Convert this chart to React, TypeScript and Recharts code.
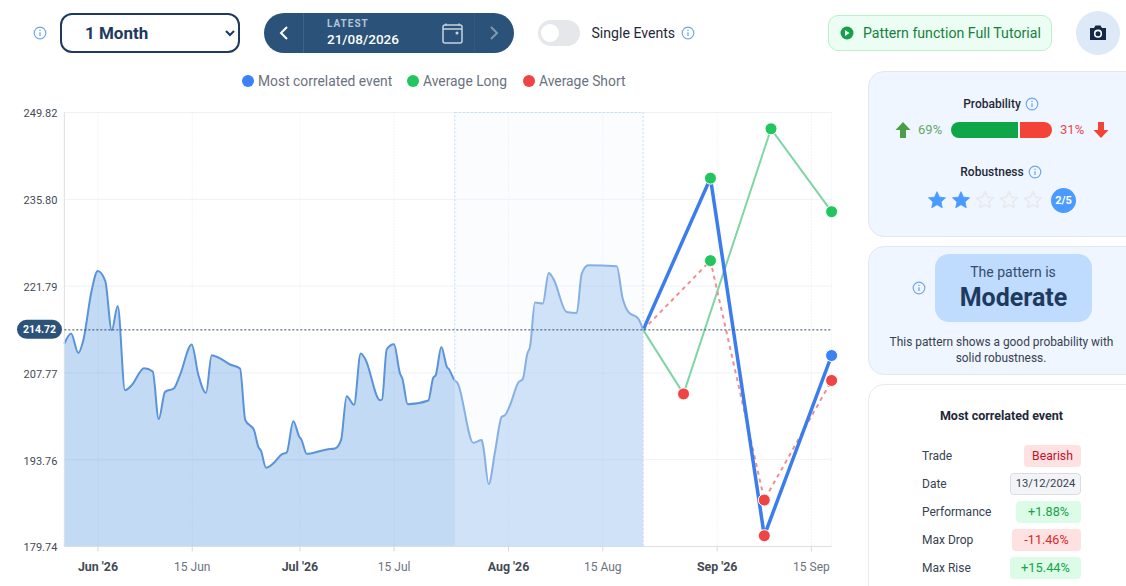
import {
  ComposedChart,
  Area,
  Line,
  XAxis,
  YAxis,
  CartesianGrid,
  ReferenceArea,
  ReferenceLine,
} from "recharts";

// days counted from 1 Jun 2026
const historyDays = [
  -5, -4, -2.93, -2.18, -0.94, -0.04, 1.08, 2.04, 2.93, 4.01, 5.01, 6.84, 8.13, 9.02, 9.96, 11.29, 12.18, 13.92, 14.9,
  16.05, 16.89, 17.88, 19.61, 21.1, 21.89, 23.18, 23.82, 24.22, 24.96, 26.05, 27.3, 28.04, 29.02, 29.91, 30.21, 31.01,
  33.98, 35.22, 36.11, 36.95, 38.04, 39.03, 39.67, 41.9, 42.2, 42.9, 43.98, 44.87, 45.22, 46.02, 49.08, 49.82, 50.18,
  51.01, 51.84, 52.2, 52.9, 53.42, 55.77, 57.01, 57.25, 58.05, 58.99, 59.99, 60.48, 61.22, 62.45, 63.11, 63.79, 64.19,
  64.93, 66.08, 66.97, 67.65, 69.64, 71.13, 71.87, 72.85, 77.07, 77.96, 78.8, 80.28, 81,
];
const historyPrices = [
  212.51, 214.13, 211.0, 213.05, 221.11, 224.22, 222.61, 214.66, 218.58, 204.98, 205.79, 208.53, 208.0, 200.3, 204.71,
  205.3, 207.4, 212.35, 207.51, 204.55, 210.63, 210.26, 209.13, 208.48, 200.14, 198.53, 195.84, 195.19, 192.45, 193.16,
  194.61, 194.93, 199.98, 197.45, 197.03, 194.71, 195.42, 195.58, 196.92, 204.01, 202.61, 210.9, 210.09, 203.37, 203.48,
  211.59, 212.4, 207.68, 206.87, 202.72, 203.32, 207.03, 207.4, 211.97, 208.74, 208.29, 206.71, 206.14, 196.48, 196.92,
  195.84, 189.82, 195.03, 200.68, 200.95, 202.56, 206.22, 206.76, 210.9, 211.97, 219.13, 218.97, 223.9, 223.0, 217.61,
  217.45, 223.8, 225.14, 224.98, 219.77, 217.61, 216.55, 214.72,
];

const correlatedDays = [81, 91, 99, 109];
const correlatedPrices = [214.72, 239.22, 181.48, 210.58];
const longDays = [81, 87, 100, 109];
const longPrices = [214.72, 204.38, 247.19, 233.8];
const shortDays = [81, 91, 99, 109];
const shortPrices = [214.72, 225.9, 187.24, 206.55];

const latestPrice = 214.72;
const highlightStart = 53;
const highlightEnd = 81;

const yTicks = [179.74, 193.76, 207.77, 221.79, 235.8, 249.82];
const xTicks = [0, 14, 30, 44, 61, 75, 92, 106];
const xTickLabels = ["Jun '26", "15 Jun", "Jul '26", "15 Jul", "Aug '26", "15 Aug", "Sep '26", "15 Sep"];

const legendNames = ["Most correlated event", "Average Long", "Average Short"];

const probabilityUp = 69;
const probabilityDown = 31;
const robustness = 2;
const eventLabels = ["Trade", "Date", "Performance", "Max Drop", "Max Rise"];
const eventValues = ["Bearish", "13/12/2024", "+1.88%", "-11.46%", "+15.44%"];

const GREEN = "#22c55e";
const RED = "#ef4444";
const BLUE = "#3b82f6";
const NAVY = "#2b5278";
const FONT = "Roboto, sans-serif";
const legendColors = [BLUE, GREEN, RED];

const toRows = (days: number[], prices: number[]) => days.map((day, i) => ({ day, price: prices[i] }));

const PointDot = ({ cx, cy, index, payload, lastColor }: any) => {
  if (index === 0) return <g key={index} />;
  let fill = payload.price > latestPrice ? GREEN : RED;
  if (lastColor && index === 3) fill = lastColor;
  return <circle key={index} cx={cx} cy={cy} r={6} fill={fill} stroke="#fff" strokeWidth={1} />;
};

const MonthTick = ({ x, y, payload }: any) => {
  const label = xTickLabels[xTicks.indexOf(payload.value)];
  const isMonth = label.includes("'");
  return (
    <text
      x={x}
      y={y + 17}
      textAnchor="middle"
      fontFamily={FONT}
      fontSize={isMonth ? 12.4 : 12}
      fontWeight={isMonth ? 700 : 400}
      fill={isMonth ? "#444b55" : "#6b7280"}
    >
      {label}
    </text>
  );
};

const LatestLabel = ({ viewBox }: any) => (
  <g>
    <rect x={17} y={viewBox.y - 10} width={45} height={19} rx={9.5} fill={NAVY} />
    <text x={39.5} y={viewBox.y + 3.5} textAnchor="middle" fontFamily={FONT} fontSize={10.5} fontWeight={700} fill="#fff">
      {latestPrice.toFixed(2)}
    </text>
  </g>
);

const InfoIcon = ({ x, y, size = 14 }: { x: number; y: number; size?: number }) => (
  <svg
    width={size}
    height={size}
    viewBox="0 0 14 14"
    style={{ position: "absolute", left: x - size / 2, top: y - size / 2 }}
    fill="none"
    stroke="#6fa8e8"
  >
    <circle cx="7" cy="7" r="5.8" strokeWidth="1.2" />
    <line x1="7" y1="6.2" x2="7" y2="10" strokeWidth="1.3" />
    <line x1="7" y1="3.7" x2="7" y2="5" strokeWidth="1.3" />
  </svg>
);

const Txt = ({ x, y, w, align = "left", size = 12, weight = 400, color = "#374151", children, extra }: any) => (
  <div
    style={{
      position: "absolute",
      left: align === "center" ? x - (w ?? 300) / 2 : x,
      top: y - 12,
      width: align === "center" ? w ?? 300 : undefined,
      height: 24,
      lineHeight: "24px",
      textAlign: align,
      fontSize: size,
      fontWeight: weight,
      color,
      whiteSpace: "nowrap",
      ...extra,
    }}
  >
    {children}
  </div>
);

const Star = ({ x, filled }: { x: number; filled: boolean }) => (
  <svg width={20} height={20} viewBox="0 0 24 24" style={{ position: "absolute", left: x - 10, top: 190 }}>
    <path
      d="M12 2l3 6.6 7.2.8-5.4 4.8 1.5 7.1L12 17.6 5.700 21.300l1.500-7.100L1.800 9.400 9 8.600z"
      fill={filled ? "#4a9bff" : "none"}
      stroke={filled ? "#4a9bff" : "#e8eaef"}
      strokeWidth={filled ? 1 : 2}
      strokeLinejoin="round"
    />
  </svg>
);

const badgeStyles = [
  { left: 1024, bg: "#fee2e2", color: "#c8102e", size: 12.2 },
  { left: 1010, bg: "#f3f4f6", color: "#374151", size: 11.2, border: "1px solid #d9dce1" },
  { left: 1016, bg: "#dcfce7", color: "#16a34a", size: 12.6 },
  { left: 1012, bg: "#fee2e2", color: "#dc2626", size: 12.6 },
  { left: 1010, bg: "#dcfce7", color: "#16a34a", size: 12.8 },
];

const Header = () => (
  <>
    <InfoIcon x={40} y={33} />
    <select
      defaultValue="1 Month"
      style={{
        position: "absolute",
        left: 60,
        top: 13,
        width: 180,
        height: 40,
        boxSizing: "border-box",
        border: `2px solid #1e3a5f`,
        borderRadius: 12,
        background: "#fff",
        paddingLeft: 19,
        fontFamily: FONT,
        fontSize: 17,
        fontWeight: 700,
        color: "#1e3a5f",
      }}
    >
      <option>1 Month</option>
    </select>

    <div style={{ position: "absolute", left: 264, top: 13, width: 250, height: 40, borderRadius: 20, background: NAVY }}>
      <div style={{ position: "absolute", left: 39, top: 0, width: 1, height: 40, background: "#3f6486" }} />
      <div style={{ position: "absolute", left: 210, top: 0, width: 1, height: 40, background: "#36597b" }} />
      <svg width={40} height={40} style={{ position: "absolute", left: 0, top: 0 }} fill="none" stroke="#fff" strokeWidth="2">
        <path d="M23 14l-6 6 6 6" />
      </svg>
      <svg width={40} height={40} style={{ position: "absolute", left: 210, top: 0 }} fill="none" stroke="#7f99b3" strokeWidth="2">
        <path d="M17 14l6 6-6 6" />
      </svg>
      <svg width={24} height={24} style={{ position: "absolute", left: 176, top: 8 }} fill="none" stroke="#c5d3e0" strokeWidth="1.5">
        <rect x="3" y="4" width="19" height="18" rx="2" />
        <path d="M3 8h19M6 2.500v2M19 2.500v2" />
        <circle cx="17" cy="12" r="0.8" />
      </svg>
      <Txt x={63} y={11} size={10} weight={700} color="#b4c6d8" extra={{ letterSpacing: 1 }}>
        LATEST
      </Txt>
      <Txt x={63} y={26} size={13.5} weight={500} color="#fff">
        21/08/2026
      </Txt>
    </div>

    <div style={{ position: "absolute", left: 538, top: 20, width: 42, height: 26, borderRadius: 13, background: "#e5e7eb" }}>
      <div style={{ position: "absolute", left: 3, top: 4, width: 18, height: 18, borderRadius: 9, background: "#fff" }} />
    </div>
    <Txt x={591.5} y={33} size={14.1} color="#1f2937">
      Single Events
    </Txt>
    <InfoIcon x={688} y={33} />

    <div
      style={{
        position: "absolute",
        left: 828,
        top: 15,
        width: 224,
        height: 36,
        boxSizing: "border-box",
        borderRadius: 10,
        border: "1px solid #bbf0cf",
        background: "#ecfdf3",
      }}
    />
    <svg width={14} height={14} viewBox="0 0 14 14" style={{ position: "absolute", left: 840, top: 26 }}>
      <circle cx="7" cy="7" r="6.500" fill="#15a04a" />
      <path d="M5 4l4.500 3L5 10z" fill="#fff" />
    </svg>
    <Txt x={863} y={33} size={14.15} color="#15803d">
      Pattern function Full Tutorial
    </Txt>

    <div style={{ position: "absolute", left: 1076, top: 11, width: 44, height: 44, borderRadius: 22, background: "#dde9f7" }} />
    <svg width={18} height={16} viewBox="0 0 18 16" style={{ position: "absolute", left: 1089, top: 25 }}>
      <path d="M1 3h4l1.500-2.500h5L13 3h4v12H1z" fill="#16284a" />
      <circle cx="9" cy="8.700" r="3.300" fill="none" stroke="#fff" strokeWidth="1.600" />
    </svg>
  </>
);

const ChartLegend = () => (
  <>
    {legendNames.map((name, i) => {
      const left = [242, 407, 523][i];
      return (
        <div key={name}>
          <div
            style={{
              position: "absolute",
              left,
              top: 75,
              width: 12,
              height: 12,
              borderRadius: 6,
              background: legendColors[i],
            }}
          />
          <Txt x={left + 16} y={81} size={13.85} color="#6b7280">
            {name}
          </Txt>
        </div>
      );
    })}
  </>
);

const SidePanel = () => (
  <>
    <div style={{ ...cardStyle, top: 71, height: 166 }} />
    <Txt x={992} y={104} w={100} align="center" weight={500} color="#1f2937">
      Probability
    </Txt>
    <InfoIcon x={1032} y={104} />
    <svg width={16} height={18} viewBox="0 0 16 18" style={{ position: "absolute", left: 895, top: 121 }}>
      <path d="M8 1l7.500 8H11v8H5V9H.5z" fill="#4b9e47" />
    </svg>
    <Txt x={918} y={130} size={13} color="#63a863">
      {probabilityUp}%
    </Txt>
    <div style={{ position: "absolute", left: 951, top: 122, width: 67, height: 16, background: "#0ea648", borderRadius: "8px 0 0 8px" }} />
    <div style={{ position: "absolute", left: 1020, top: 122, width: 32, height: 16, background: "#f44336", borderRadius: "0 8px 8px 0" }} />
    <Txt x={1060} y={130} size={13} color="#e5484d">
      {probabilityDown}%
    </Txt>
    <svg width={16} height={18} viewBox="0 0 16 18" style={{ position: "absolute", left: 1093, top: 121 }}>
      <path d="M8 17L.5 9H5V1h6v8h4.500z" fill="#f44336" />
    </svg>

    <Txt x={992} y={172} w={100} align="center" weight={500} color="#1f2937">
      Robustness
    </Txt>
    <InfoIcon x={1035} y={172} />
    {[937, 961, 985, 1009, 1033].map((x, i) => (
      <Star key={x} x={x} filled={i < robustness} />
    ))}
    <div
      style={{
        position: "absolute",
        left: 1051,
        top: 188,
        width: 25,
        height: 25,
        borderRadius: 13,
        background: "#4a9bff",
        color: "#fff",
        fontSize: 11,
        fontWeight: 700,
        lineHeight: "25px",
        textAlign: "center",
      }}
    >
      {robustness}/5
    </div>

    <div style={{ ...cardStyle, top: 246, height: 129 }} />
    <div style={{ position: "absolute", left: 935, top: 254, width: 157, height: 68, borderRadius: 14, background: "#bfdbfe" }} />
    <InfoIcon x={919} y={288} />
    <Txt x={1013} y={272} w={157} align="center" size={14} color="#334e6e">
      The pattern is
    </Txt>
    <Txt x={1013.5} y={298} w={157} align="center" size={25} weight={700} color="#1e3a5f">
      Moderate
    </Txt>
    <Txt x={1001.5} y={342} w={240} align="center" size={11.9} color="#374151">
      This pattern shows a good probability with
    </Txt>
    <Txt x={1001} y={358} w={240} align="center" size={11.9} color="#374151">
      solid robustness.
    </Txt>

    <div style={{ ...cardStyle, top: 384, height: 240, background: "#fff", borderColor: "#e8eaee" }} />
    <Txt x={1001.5} y={416} w={200} align="center" size={12.5} weight={700} color="#1f2937">
      Most correlated event
    </Txt>
    {eventLabels.map((label, i) => {
      const badge = badgeStyles[i];
      const y = 456 + i * 28;
      return (
        <div key={label}>
          <Txt x={922} y={y} color="#374151">
            {label}
          </Txt>
          <div
            style={{
              position: "absolute",
              left: badge.left,
              top: y - 11,
              width: 1081 - badge.left,
              height: 22,
              boxSizing: "border-box",
              borderRadius: 4,
              background: badge.bg,
              border: badge.border,
              color: badge.color,
              fontSize: badge.size,
              lineHeight: badge.border ? "20px" : "22px",
              textAlign: "center",
            }}
          >
            {eventValues[i]}
          </div>
        </div>
      );
    })}
  </>
);

const cardStyle: any = {
  position: "absolute",
  left: 868,
  width: 280,
  boxSizing: "border-box",
  borderRadius: 16,
  border: "1px solid #e2e8f0",
  background: "#eff6ff",
};

export default function App() {
  return (
    <div
      style={{
        position: "absolute",
        left: 0,
        top: 0,
        width: 1126,
        height: 586,
        overflow: "hidden",
        background: "#fff",
        fontFamily: FONT,
      }}
    >
      <div style={{ position: "absolute", left: 0, top: 0 }}>
        <ComposedChart width={850} height={586} margin={{ top: 112.5, right: 18.4, left: 0, bottom: 0 }}>
          <CartesianGrid vertical={false} stroke="#eef1f5" />
          <CartesianGrid horizontal={false} stroke="#e4e9f0" strokeDasharray="1 2" />
          <XAxis
            type="number"
            dataKey="day"
            domain={[-5, 109]}
            ticks={xTicks}
            interval={0}
            height={39.5}
            tick={<MonthTick />}
            tickSize={5}
            tickLine={{ stroke: "#d5dae1" }}
            axisLine={{ stroke: "#dcdfe4" }}
          />
          <YAxis
            type="number"
            domain={[179.74, 249.82]}
            ticks={yTicks}
            interval={0}
            width={64.35}
            tick={{ fontFamily: FONT, fontSize: 11, fill: "#444b55", dy: 1 }}
            tickFormatter={(v) => Number(v).toFixed(2)}
            tickMargin={1}
            tickLine={false}
            axisLine={{ stroke: "#dcdfe4" }}
          />
          <Area
            data={toRows(historyDays, historyPrices)}
            dataKey="price"
            type="monotone"
            stroke="#5a93d9"
            strokeWidth={2}
            fill="#4a90e2"
            fillOpacity={0.33}
            dot={false}
            activeDot={false}
            isAnimationActive={false}
          />
          <ReferenceArea
            x1={highlightStart}
            x2={highlightEnd}
            fill="#f0f6fd"
            fillOpacity={0.3}
            stroke="#c4daf5"
            strokeDasharray="2 2"
            zIndex={1000}
          />
          <ReferenceLine
            y={latestPrice}
            stroke="#2f4a68"
            strokeDasharray="2 2"
            label={<LatestLabel />}
            zIndex={1000}
          />
          <Line
            data={toRows(longDays, longPrices)}
            dataKey="price"
            type="linear"
            stroke="#7fd6a4"
            strokeWidth={2}
            dot={<PointDot />}
            activeDot={false}
            isAnimationActive={false}
          />
          <Line
            data={toRows(shortDays, shortPrices)}
            dataKey="price"
            type="linear"
            stroke="#f08f8f"
            strokeWidth={2}
            strokeDasharray="4 4"
            dot={<PointDot />}
            activeDot={false}
            isAnimationActive={false}
          />
          <Line
            data={toRows(correlatedDays, correlatedPrices)}
            dataKey="price"
            type="linear"
            stroke="#3b7ded"
            strokeWidth={3.5}
            dot={<PointDot lastColor={BLUE} />}
            activeDot={false}
            isAnimationActive={false}
          />
        </ComposedChart>
      </div>
      <Header />
      <ChartLegend />
      <SidePanel />
    </div>
  );
}
